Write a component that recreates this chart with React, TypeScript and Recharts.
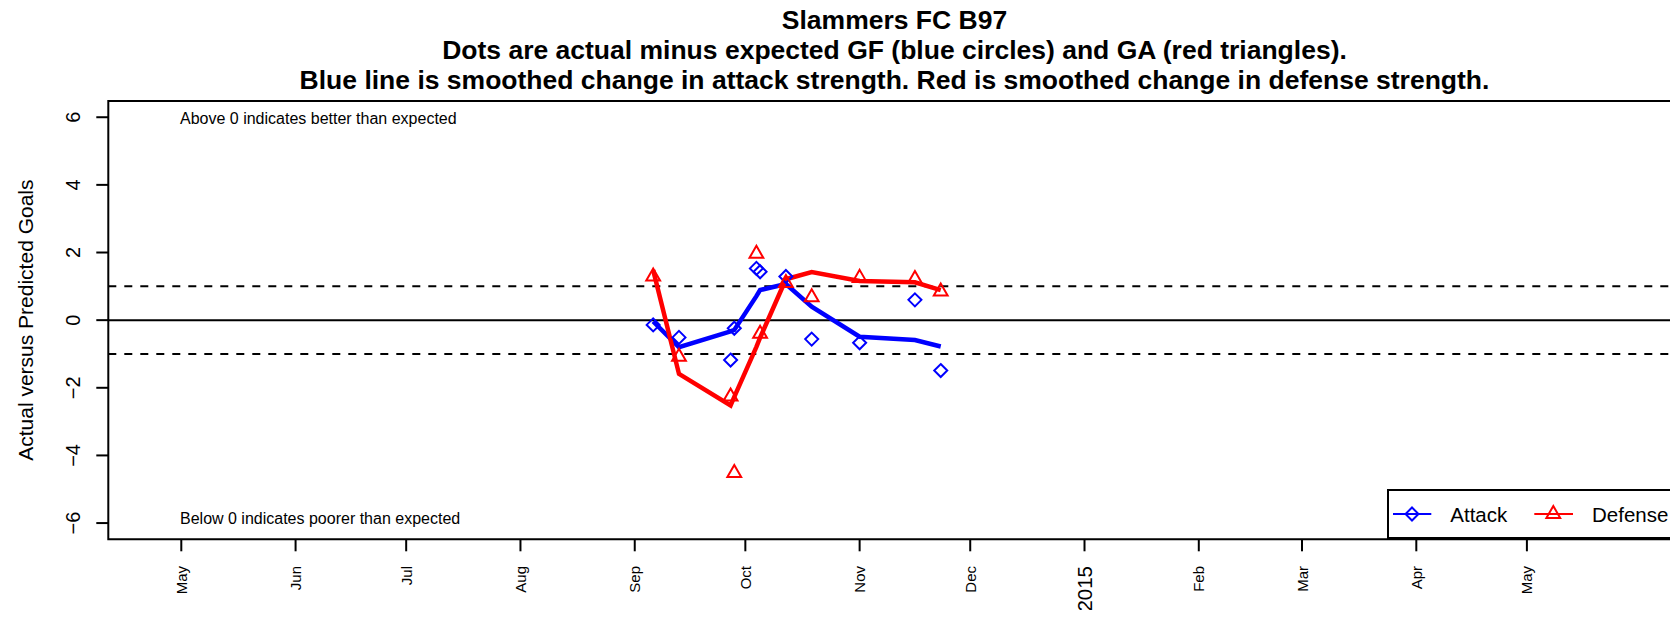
import React from 'react';
import {
  ComposedChart,
  XAxis,
  YAxis,
  Line,
  Scatter,
  ReferenceLine,
  ReferenceArea,
  Legend,
} from 'recharts';

const FONT = '"Liberation Sans", Arial, Helvetica, sans-serif';
const BLUE = '#0000ff';
const RED = '#ff0000';

const ms = (s: string) => Date.parse(s + 'T00:00:00Z');

// match dates and values
const matchDates = [
  '2014-09-06', '2014-09-13', '2014-09-27', '2014-09-28', '2014-10-04', '2014-10-05',
  '2014-10-12', '2014-10-19', '2014-11-01', '2014-11-16', '2014-11-23',
];
const attackActual = [-0.14, -0.51, -1.18, -0.24, 1.53, 1.43, 1.29, -0.56, -0.67, 0.6, -1.49];
const defenseActual = [1.29, -1.08, -2.26, -4.52, 1.96, -0.4, 1.1, 0.68, 1.25, 1.22, 0.85];
const attackSmooth = [-0.04, -0.8, -0.33, -0.29, 0.71, 0.89, 1.07, 0.4, -0.49, -0.59, -0.78];
const defenseSmooth = [1.48, -1.59, -2.52, -2.27, -0.79, -0.52, 1.21, 1.42, 1.16, 1.12, 0.89];

const monthTicks = [
  '2014-05-01', '2014-06-01', '2014-07-01', '2014-08-01', '2014-09-01', '2014-10-01', '2014-11-01',
  '2014-12-01', '2015-01-01', '2015-02-01', '2015-03-01', '2015-04-01', '2015-05-01',
];
const monthLabels = ['May', 'Jun', 'Jul', 'Aug', 'Sep', 'Oct', 'Nov', 'Dec', '2015', 'Feb', 'Mar', 'Apr', 'May'];
const yTicks = [-6, -4, -2, 0, 2, 4, 6];

const xlim = ['2014-04-27', '2015-05-27'];
const ylim = [-6, 6];

const titleLines = [
  'Slammers FC B97',
  'Dots are actual minus expected GF (blue circles) and GA (red triangles).',
  'Blue line is smoothed change in attack strength. Red is smoothed change in defense strength.',
];

const rows = matchDates.map((d, i) => ({
  t: ms(d),
  attack: attackActual[i],
  defense: defenseActual[i],
  attackSmooth: attackSmooth[i],
  defenseSmooth: defenseSmooth[i],
}));

// R style 4% extension of the limits
const extend = (a: number, b: number): [number, number] => {
  const d = (b - a) * 0.04;
  return [a - d, b + d];
};
const xDomain = extend(ms(xlim[0]), ms(xlim[1]));
const yDomain = extend(ylim[0], ylim[1]);
const tickValues = monthTicks.map(ms);

const Diamond = ({ cx, cy }: any) => {
  if (cx == null || cy == null) return null;
  const r = 6.5;
  return (
    <polygon
      points={`${cx},${cy - r} ${cx + r},${cy} ${cx},${cy + r} ${cx - r},${cy}`}
      fill="none"
      stroke={BLUE}
      strokeWidth={2}
    />
  );
};

const Triangle = ({ cx, cy }: any) => {
  if (cx == null || cy == null) return null;
  const r = 8;
  const w = 6.9;
  return (
    <polygon
      points={`${cx},${cy - r} ${cx + w},${cy + r / 2} ${cx - w},${cy + r / 2}`}
      fill="none"
      stroke={RED}
      strokeWidth={2}
    />
  );
};

const MonthTick = ({ x, y, payload }: any) => {
  const i = tickValues.indexOf(payload.value);
  const label = monthLabels[i];
  const isYear = /^\d+$/.test(label);
  return (
    <text
      transform={`translate(${x},${y + 14.7}) rotate(-90)`}
      textAnchor="end"
      dominantBaseline="central"
      fontSize={isYear ? 20.5 : 15}
      fontFamily={FONT}
      fill="#000"
    >
      {label}
    </text>
  );
};

const YTick = ({ x, y, payload }: any) => (
  <text
    transform={`translate(${x - 23.3},${y}) rotate(-90)`}
    textAnchor="middle"
    dominantBaseline="central"
    fontSize={20}
    fontFamily={FONT}
    fill="#000"
  >
    {String(payload.value).replace('-', '\u2212')}
  </text>
);

const YTitle = ({ viewBox }: any) => (
  <text
    transform={`translate(${viewBox.x + 16.7},${viewBox.y + viewBox.height / 2}) rotate(-90)`}
    textAnchor="middle"
    dominantBaseline="central"
    fontSize={21}
    fontFamily={FONT}
    fill="#000"
  >
    Actual versus Predicted Goals
  </text>
);

const note = (text: string, dy: number) => ({ viewBox }: any) => (
  <text
    x={viewBox.x + 71.7}
    y={viewBox.y + dy}
    dominantBaseline="central"
    fontSize={16}
    fontFamily={FONT}
    fill="#000"
  >
    {text}
  </text>
);

const LegendBox = () => (
  <div
    style={{
      width: '100%',
      height: '100%',
      boxSizing: 'border-box',
      border: '2px solid #000',
      background: '#fff',
    }}
  >
    <svg width={300} height={48} style={{ position: 'absolute', left: 0, top: 0 }}>
      <line x1={6} x2={44.3} y1={25} y2={25} stroke={BLUE} strokeWidth={2} />
      <Diamond cx={25} cy={25} />
      <text x={63.3} y={25} dominantBaseline="central" fontSize={20.5} fontFamily={FONT} fill="#000">
        Attack
      </text>
      <line x1={147.3} x2={186} y1={25} y2={25} stroke={RED} strokeWidth={2} />
      <Triangle cx={166.3} cy={25} />
      <text x={205} y={25} dominantBaseline="central" fontSize={20.5} fontFamily={FONT} fill="#000">
        Defense
      </text>
    </svg>
  </div>
);

export default function App() {
  return (
    <div
      style={{
        position: 'relative',
        margin: -8,
        width: 1678,
        height: 618,
        overflow: 'hidden',
        background: '#fff',
        fontFamily: FONT,
      }}
    >
      <div
        style={{
          position: 'absolute',
          left: 0,
          top: 5.3,
          width: 1789,
          textAlign: 'center',
          fontWeight: 'bold',
          fontSize: 26.5,
          lineHeight: '30px',
          color: '#000',
          zIndex: 2,
          whiteSpace: 'nowrap',
        }}
      >
        {titleLines.map((l) => (
          <div key={l}>{l}</div>
        ))}
      </div>
      <ComposedChart
        width={1700}
        height={618}
        data={rows}
        margin={{ top: 101, right: 19, bottom: 8.7, left: 8.3 }}
      >
        <XAxis
          type="number"
          dataKey="t"
          domain={xDomain}
          allowDataOverflow
          ticks={tickValues}
          interval={0}
          height={70}
          tickSize={12}
          tickMargin={0}
          axisLine={false}
          tickLine={{ stroke: '#000', strokeWidth: 2 }}
          tick={<MonthTick />}
        />
        <YAxis
          type="number"
          domain={yDomain}
          allowDataOverflow
          ticks={yTicks}
          interval={0}
          width={100}
          tickSize={12}
          tickMargin={0}
          axisLine={false}
          tickLine={{ stroke: '#000', strokeWidth: 2 }}
          tick={<YTick />}
          label={<YTitle />}
        />
        <ReferenceArea
          x1={xDomain[0]}
          x2={xDomain[1]}
          y1={yDomain[0]}
          y2={yDomain[1]}
          fill="none"
          stroke="#000"
          strokeWidth={2}
          ifOverflow="visible"
        />
        <ReferenceLine y={0} stroke="#000" strokeWidth={2} />
        <ReferenceLine y={1} stroke="#000" strokeWidth={2} strokeDasharray="8 8" />
        <ReferenceLine y={-1} stroke="#000" strokeWidth={2} strokeDasharray="8 8" />
        <ReferenceLine y={6} stroke="none" label={note('Above 0 indicates better than expected', 1.7)} />
        <ReferenceLine y={-6} stroke="none" label={note('Below 0 indicates poorer than expected', -4.8)} />
        <Scatter dataKey="attack" shape={<Diamond />} isAnimationActive={false} legendType="none" />
        <Scatter dataKey="defense" shape={<Triangle />} isAnimationActive={false} legendType="none" />
        <Line
          type="linear"
          dataKey="attackSmooth"
          stroke={BLUE}
          strokeWidth={4.5}
          dot={false}
          activeDot={false}
          isAnimationActive={false}
        />
        <Line
          type="linear"
          dataKey="defenseSmooth"
          stroke={RED}
          strokeWidth={4.5}
          dot={false}
          activeDot={false}
          isAnimationActive={false}
        />
        <Legend
          layout="horizontal"
          verticalAlign="middle"
          align="center"
          content={<LegendBox />}
          wrapperStyle={{ position: 'absolute', left: 1386.7, top: 489, width: 310, height: 50.3 }}
        />
      </ComposedChart>
    </div>
  );
}
